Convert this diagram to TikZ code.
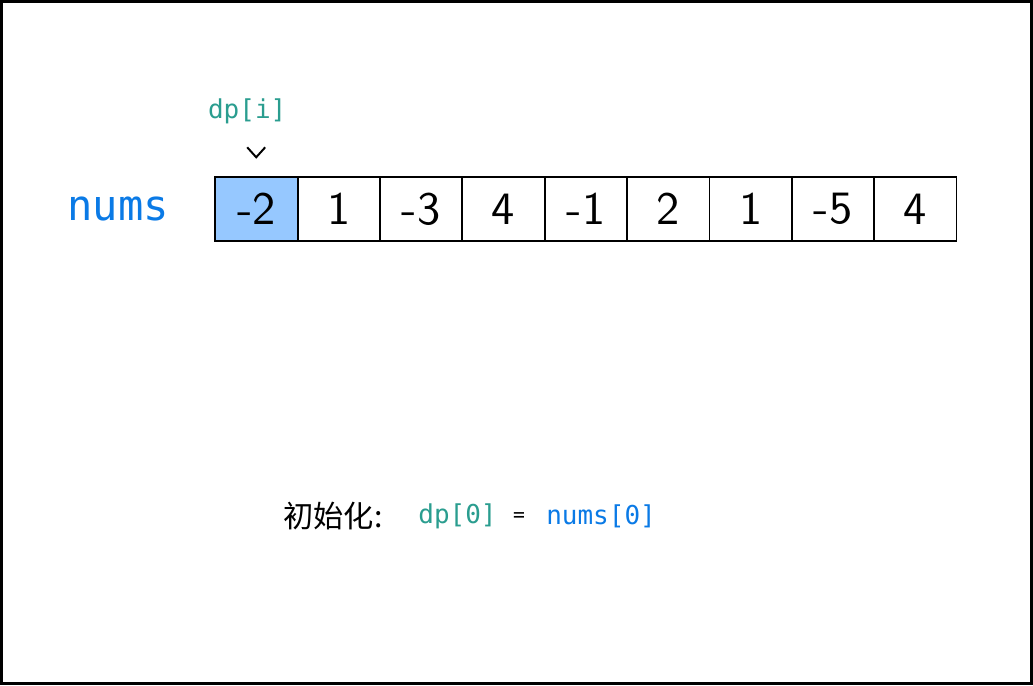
\documentclass[tikz,border=0pt]{standalone}
\usepackage{fontspec}
\setmonofont{DejaVu Sans Mono}
\newfontfamily\cjk{Noto Sans CJK SC}
\newfontfamily\cellfont{lmsans10-regular.otf}
\usetikzlibrary{positioning}
\definecolor{numsblue}{HTML}{0A7AE6}
\definecolor{dpgreen}{HTML}{2A9D8F}
\definecolor{cellblue}{HTML}{96C8FF}
\tikzset{
  cell/.style={draw, line width=1.2pt, minimum width=2.06cm, minimum height=1.6cm,
    outer sep=0pt, inner sep=0pt, font=\cellfont\fontsize{33}{33}\selectfont},
  code/.style={font=\ttfamily\fontsize{18.5}{18.5}\selectfont, inner sep=0pt}
}
\begin{document}
\begin{tikzpicture}[x=0.025cm, y=-0.025cm]
      \draw[line width=2pt] (1,1) rectangle (1032,684);
      \node[font=\ttfamily\fontsize{30}{30}\selectfont, text=numsblue] (nums) at (118,209) {nums};
      \node[cell, fill=cellblue] (0) at (256.2,209) {-2};
      \node[cell] (1) at (338.7,209) {1};
      \node[cell] (2) at (421.1,209) {-3};
      \node[cell] (3) at (503.5,209) {4};
      \node[cell] (4) at (586.0,209) {-1};
      \node[cell] (5) at (668.4,209) {2};
      \node[cell] (6) at (750.9,209) {1};
      \node[cell] (7) at (833.3,209) {-5};
      \node[cell] (8) at (915.7,209) {4};
      % pointer to the current cell
      \node[code, text=dpgreen] (dp) at (247,111) {dp[i]};
      \coordinate (tip) at (256,157);
      \draw[line width=1.4pt] (tip) ++(-9,-10) -- (tip) -- ++(9,-10);
      % initial value
      \node[anchor=west, inner sep=0pt, font=\cjk\fontsize{21.5}{21.5}\selectfont] (init) at (283,516) {初始化:};
      \node[code, anchor=west, text=dpgreen] (dp0) at (418,516) {dp[0]};
      \node[code, font=\ttfamily\fontsize{14}{14}\selectfont] (eq) at (519,517) {=};
      \node[code, anchor=west, text=numsblue] (nums0) at (546,516) {nums[0]};
    \end{tikzpicture}
\end{document}
